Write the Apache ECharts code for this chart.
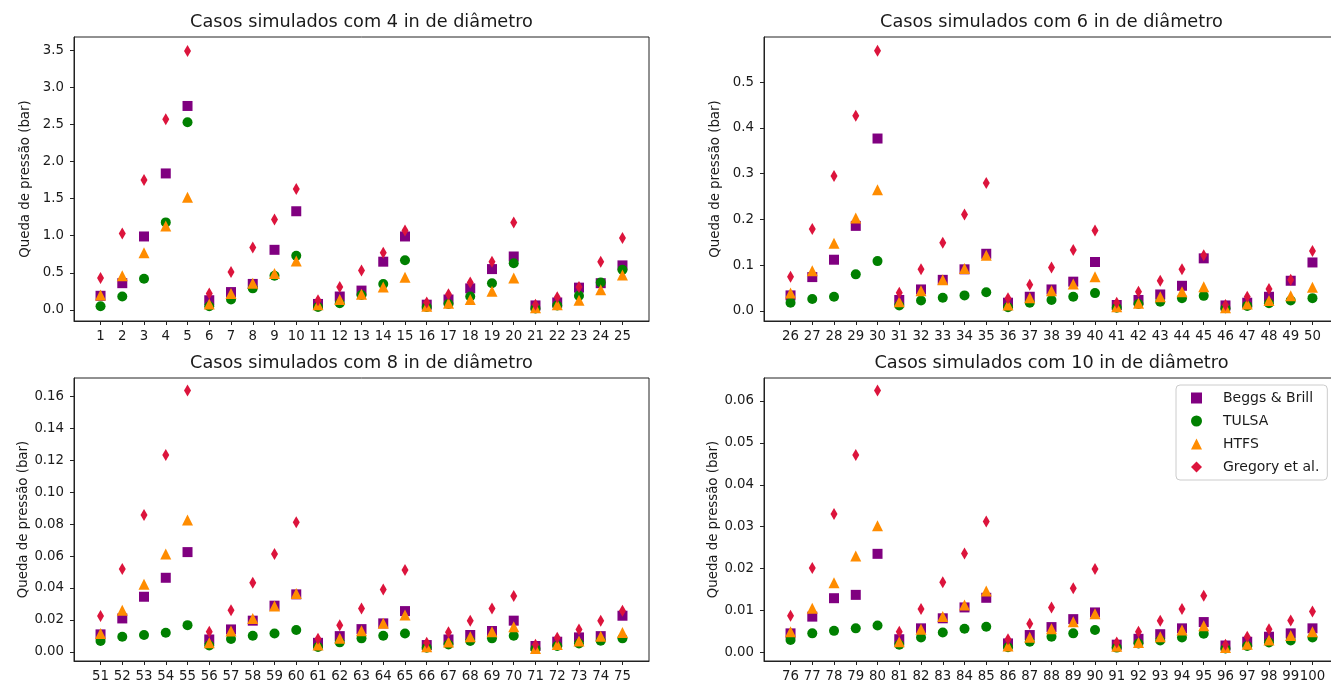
<!DOCTYPE html>
<html>
<head>
<meta charset="utf-8">
<title>Casos simulados</title>
<script src="https://cdn.jsdelivr.net/npm/echarts@6/dist/echarts.min.js"></script>
<style>
	html, body { margin: 0; padding: 0; background: #fff; }
	#container { width: 1331px; height: 686px; }
</style>
</head>
<body>
<div id="container"></div>
<script>
// numeros dos casos
var cases4 = [1, 2, 3, 4, 5, 6, 7, 8, 9, 10, 11, 12, 13, 14, 15, 16, 17, 18, 19, 20, 21, 22, 23, 24, 25];
var cases6 = [26, 27, 28, 29, 30, 31, 32, 33, 34, 35, 36, 37, 38, 39, 40, 41, 42, 43, 44, 45, 46, 47, 48, 49, 50];
var cases8 = [51, 52, 53, 54, 55, 56, 57, 58, 59, 60, 61, 62, 63, 64, 65, 66, 67, 68, 69, 70, 71, 72, 73, 74, 75];
var cases10 = [76, 77, 78, 79, 80, 81, 82, 83, 84, 85, 86, 87, 88, 89, 90, 91, 92, 93, 94, 95, 96, 97, 98, 99, 100];

// 4 in
var bb4 = [0.19, 0.36, 0.99, 1.84, 2.75, 0.13, 0.24, 0.35, 0.81, 1.33, 0.08, 0.18, 0.26, 0.65, 0.99, 0.07, 0.14, 0.29, 0.55, 0.72, 0.06, 0.10, 0.30, 0.36, 0.60];
var tulsa4 = [0.05, 0.18, 0.42, 1.18, 2.53, 0.05, 0.14, 0.29, 0.46, 0.73, 0.04, 0.09, 0.20, 0.35, 0.67, 0.04, 0.08, 0.18, 0.36, 0.63, 0.02, 0.06, 0.19, 0.37, 0.54];
var htfs4 = [0.20, 0.46, 0.77, 1.13, 1.52, 0.08, 0.22, 0.36, 0.49, 0.66, 0.07, 0.14, 0.21, 0.31, 0.44, 0.05, 0.09, 0.14, 0.25, 0.43, 0.03, 0.07, 0.13, 0.27, 0.47];
var greg4 = [0.43, 1.03, 1.75, 2.57, 3.49, 0.22, 0.51, 0.84, 1.22, 1.63, 0.13, 0.31, 0.53, 0.77, 1.07, 0.10, 0.21, 0.37, 0.65, 1.18, 0.07, 0.17, 0.31, 0.65, 0.97];

// 6 in
var bb6 = [0.034, 0.074, 0.112, 0.186, 0.377, 0.024, 0.047, 0.068, 0.091, 0.125, 0.018, 0.031, 0.047, 0.064, 0.107, 0.013, 0.024, 0.036, 0.055, 0.115, 0.012, 0.018, 0.031, 0.066, 0.106];
var tulsa6 = [0.018, 0.026, 0.031, 0.080, 0.109, 0.012, 0.023, 0.029, 0.034, 0.041, 0.008, 0.018, 0.024, 0.031, 0.039, 0.007, 0.015, 0.020, 0.028, 0.033, 0.006, 0.011, 0.017, 0.023, 0.028];
var htfs6 = [0.039, 0.088, 0.148, 0.203, 0.265, 0.020, 0.044, 0.068, 0.093, 0.122, 0.013, 0.029, 0.044, 0.059, 0.075, 0.009, 0.017, 0.031, 0.042, 0.053, 0.007, 0.015, 0.023, 0.033, 0.052];
var greg6 = [0.075, 0.179, 0.295, 0.427, 0.569, 0.040, 0.091, 0.149, 0.211, 0.280, 0.028, 0.057, 0.095, 0.133, 0.176, 0.018, 0.042, 0.066, 0.091, 0.122, 0.013, 0.031, 0.048, 0.068, 0.131];

// 8 in
var bb8 = [0.0109, 0.0209, 0.0345, 0.0464, 0.0625, 0.0077, 0.0140, 0.0195, 0.0289, 0.0360, 0.0056, 0.0098, 0.0142, 0.0178, 0.0255, 0.0042, 0.0077, 0.0105, 0.0130, 0.0195, 0.0036, 0.0063, 0.0090, 0.0098, 0.0226];
var tulsa8 = [0.0067, 0.0094, 0.0105, 0.0119, 0.0167, 0.0040, 0.0080, 0.0100, 0.0115, 0.0136, 0.0030, 0.0059, 0.0084, 0.0100, 0.0115, 0.0025, 0.0046, 0.0067, 0.0084, 0.0100, 0.0019, 0.0036, 0.0052, 0.0069, 0.0084];
var htfs8 = [0.0115, 0.0261, 0.0423, 0.0613, 0.0826, 0.0056, 0.0130, 0.0209, 0.0287, 0.0366, 0.0042, 0.0084, 0.0132, 0.0178, 0.0230, 0.0031, 0.0061, 0.0094, 0.0125, 0.0157, 0.0021, 0.0046, 0.0067, 0.0098, 0.0121];
var greg8 = [0.0224, 0.0519, 0.0858, 0.1234, 0.1638, 0.0125, 0.0261, 0.0433, 0.0613, 0.0812, 0.0082, 0.0167, 0.0272, 0.0391, 0.0512, 0.0056, 0.0123, 0.0195, 0.0272, 0.0349, 0.0044, 0.0088, 0.0140, 0.0195, 0.0257];

// 10 in
var bb10 = [0.0045, 0.0085, 0.0129, 0.0137, 0.0235, 0.0031, 0.0057, 0.0081, 0.0107, 0.0130, 0.0021, 0.0041, 0.0060, 0.0079, 0.0095, 0.0018, 0.0032, 0.0043, 0.0057, 0.0072, 0.0016, 0.0025, 0.0037, 0.0045, 0.0057];
var tulsa10 = [0.0029, 0.0045, 0.0051, 0.0057, 0.0064, 0.0018, 0.0035, 0.0047, 0.0056, 0.0061, 0.0012, 0.0025, 0.0037, 0.0045, 0.0053, 0.0011, 0.0021, 0.0028, 0.0035, 0.0044, 0.0009, 0.0015, 0.0023, 0.0028, 0.0035];
var htfs10 = [0.0049, 0.0105, 0.0166, 0.0230, 0.0302, 0.0025, 0.0055, 0.0085, 0.0113, 0.0146, 0.0015, 0.0036, 0.0056, 0.0073, 0.0092, 0.0014, 0.0023, 0.0037, 0.0053, 0.0063, 0.0011, 0.0019, 0.0029, 0.0040, 0.0049];
var greg10 = [0.0087, 0.0201, 0.0330, 0.0471, 0.0625, 0.0049, 0.0103, 0.0167, 0.0236, 0.0312, 0.0031, 0.0068, 0.0107, 0.0153, 0.0199, 0.0023, 0.0049, 0.0075, 0.0103, 0.0135, 0.0018, 0.0037, 0.0055, 0.0076, 0.0097];

// ticks do eixo y
var yTicks4 = [0, 0.5, 1.0, 1.5, 2.0, 2.5, 3.0, 3.5];
var yTicks6 = [0, 0.1, 0.2, 0.3, 0.4, 0.5];
var yTicks8 = [0, 0.02, 0.04, 0.06, 0.08, 0.10, 0.12, 0.14, 0.16];
var yTicks10 = [0, 0.01, 0.02, 0.03, 0.04, 0.05, 0.06];

var titles = ['Casos simulados com 4 in de diâmetro', 'Casos simulados com 6 in de diâmetro',
	'Casos simulados com 8 in de diâmetro', 'Casos simulados com 10 in de diâmetro'];
var names = ['Beggs & Brill', 'TULSA', 'HTFS', 'Gregory et al.'];

(function() {
	var dom = document.getElementById("container");
	var myChart = echarts.init(dom, null, {renderer: 'canvas'});

	var font = 'DejaVu Sans';
	var panels = [
		{cases: cases4, vals: [bb4, tulsa4, htfs4, greg4], ticks: yTicks4, dec: 1, ymin: -0.15, ymax: 3.68},
		{cases: cases6, vals: [bb6, tulsa6, htfs6, greg6], ticks: yTicks6, dec: 1, ymin: -0.022, ymax: 0.599},
		{cases: cases8, vals: [bb8, tulsa8, htfs8, greg8], ticks: yTicks8, dec: 2, ymin: -0.0058, ymax: 0.1717},
		{cases: cases10, vals: [bb10, tulsa10, htfs10, greg10], ticks: yTicks10, dec: 2, ymin: -0.0021, ymax: 0.0655}
	];
	// os paineis da direita saem um pouco da imagem (cortados na borda)
	var grids = [
		{left: 74, top: 37, width: 575, height: 284},
		{left: 764, top: 37, width: 575, height: 284},
		{left: 74, top: 378, width: 575, height: 283},
		{left: 764, top: 378, width: 575, height: 283}
	];
	var symbols = ['rect', 'circle', 'triangle', 'diamond'];
	var sizes = [10, 10, 11, [7, 12]];
	var colors = ['#800080', '#008000', '#FF8C00', '#DC143C'];

	var title = [], grid = [], xAxis = [], yAxis = [], series = [];

	panels.forEach(function(p, i) {
		var g = grids[i];
		title.push({
			text: titles[i],
			left: g.left + g.width / 2,
			top: g.top - 24,
			textAlign: 'center',
			padding: 0,
			textStyle: {fontFamily: font, fontSize: 17.7, fontWeight: 'normal', color: '#1a1a1a'}
		});
		grid.push({
			left: g.left, top: g.top, width: g.width, height: g.height,
			outerBoundsMode: 'none',
			containLabel: false,
			show: true, borderColor: '#222', borderWidth: 1, backgroundColor: 'transparent'
		});
		var first = p.cases[0], last = p.cases[p.cases.length - 1];
		xAxis.push({
			type: 'value',
			gridIndex: i,
			min: first - 1.22,
			max: last + 1.22,
			splitLine: {show: false},
			axisLine: {onZero: false, lineStyle: {color: '#222', width: 1}},
			axisTick: {show: true, length: 4, lineStyle: {color: '#222'}, customValues: p.cases},
			axisLabel: {
				customValues: p.cases, margin: 9, color: '#1a1a1a',
				fontFamily: font, fontSize: 13.3
			}
		});
		yAxis.push({
			type: 'value',
			gridIndex: i,
			min: p.ymin,
			max: p.ymax,
			name: 'Queda de pressão (bar)',
			nameLocation: 'middle',
			nameGap: 42,
			nameTextStyle: {fontFamily: font, fontSize: 13.3, color: '#1a1a1a'},
			splitLine: {show: false},
			axisLine: {show: true, onZero: false, lineStyle: {color: '#222', width: 1}},
			axisTick: {show: true, length: 4, lineStyle: {color: '#222'}, customValues: p.ticks},
			axisLabel: {
				customValues: p.ticks, margin: 10, color: '#1a1a1a',
				fontFamily: font, fontSize: 13.3,
				formatter: (function(d) { return function(v) { return v.toFixed(d); }; })(p.dec)
			}
		});
		p.vals.forEach(function(arr, k) {
			series.push({
				name: names[k],
				type: 'scatter',
				xAxisIndex: i,
				yAxisIndex: i,
				symbol: symbols[k],
				symbolSize: sizes[k],
				itemStyle: {color: colors[k], opacity: 1},
				animation: false,
				data: p.cases.map(function(c, j) { return [c, arr[j]]; })
			});
		});
	});

	var option = {
		backgroundColor: '#fff',
		animation: false,
		title: title,
		grid: grid,
		xAxis: xAxis,
		yAxis: yAxis,
		legend: {
			orient: 'vertical',
			left: 1176,
			top: 385,
			data: names,
			itemWidth: 11,
			itemHeight: 11,
			itemGap: 9,
			padding: [6, 8, 6, 15],
			backgroundColor: '#fff',
			borderColor: '#ccc',
			borderWidth: 1,
			borderRadius: 4,
			selectedMode: false,
			textStyle: {fontFamily: font, fontSize: 14, color: '#1a1a1a', padding: [0, 0, 0, 16]}
		},
		series: series
	};

	if (option && typeof option === "object") {
		myChart.setOption(option, true);
	}
})();
</script>
</body>
</html>
